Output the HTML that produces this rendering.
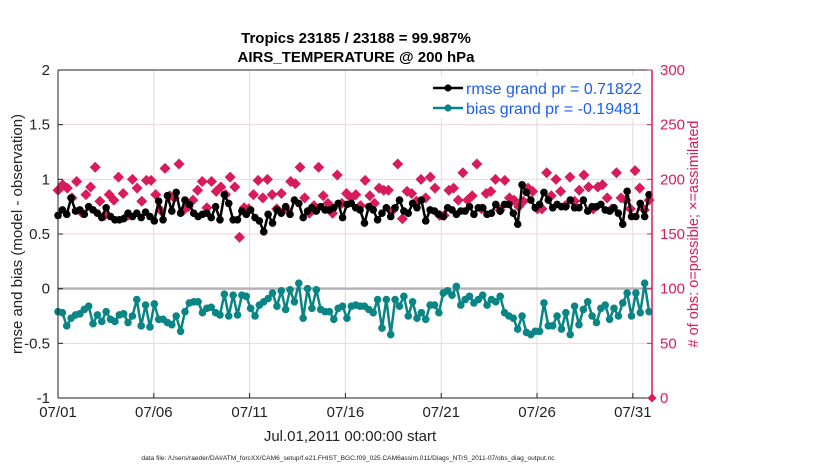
<!DOCTYPE html>
<html><head><meta charset="utf-8"><style>
body{margin:0;background:#fff;}
svg{display:block;font-family:"Liberation Sans",sans-serif;}
</style></head><body>
<svg id="chart" width="830" height="470" viewBox="0 0 830 470" xmlns="http://www.w3.org/2000/svg">
<g id="grid"></g>
<g id="series"></g>
<g id="axes"></g>
</svg>
<script>
const xTickLabels=["07/01","07/06","07/11","07/16","07/21","07/26","07/31"];
const xTickDays=[0,5,10,15,20,25,30];
const leftTicks=[2,1.5,1,0.5,0,-0.5,-1];
const leftTickLabels=["2","1.5","1","0.5","0","-0.5","-1"];
const rightTicks=[300,250,200,150,100,50,0];
const rmse=[0.67,0.72,0.68,0.83,0.71,0.72,0.68,0.75,0.72,0.69,0.65,0.74,0.66,0.63,0.63,0.64,0.69,0.66,0.69,0.65,0.70,0.66,0.62,0.80,0.63,0.85,0.71,0.88,0.69,0.81,0.77,0.69,0.66,0.68,0.69,0.65,0.75,0.63,0.86,0.78,0.63,
0.63,0.71,0.68,0.72,0.65,0.62,0.52,0.68,0.60,0.72,0.69,0.75,0.68,0.81,0.78,0.65,0.71,0.74,0.71,0.75,0.72,0.72,0.74,0.78,0.65,0.77,0.78,0.74,0.72,0.60,0.75,0.72,0.63,0.69,0.74,0.66,0.74,0.81,0.71,0.69,0.78,0.74,
0.81,0.62,0.72,0.71,0.68,0.66,0.74,0.72,0.68,0.71,0.71,0.75,0.68,0.74,0.74,0.68,0.69,0.77,0.71,0.77,0.77,0.69,0.59,0.95,0.88,0.81,0.74,0.77,0.88,0.81,0.74,0.77,0.75,0.75,0.81,0.74,0.74,0.81,0.71,0.75,0.75,0.77,0.72,0.71,0.74,0.69,0.59,0.89,0.66,0.66,0.78,0.66,0.86];
const bias=[-0.21,-0.22,-0.34,-0.27,-0.24,-0.23,-0.19,-0.16,-0.32,-0.24,-0.30,-0.21,-0.28,-0.30,-0.24,-0.23,-0.31,-0.25,-0.10,-0.34,-0.15,-0.35,-0.14,-0.28,-0.28,-0.31,-0.33,-0.25,-0.39,-0.21,-0.13,-0.12,-0.12,-0.22,-0.18,-0.17,-0.22,-0.24,-0.05,-0.25,-0.06,
-0.24,-0.06,-0.07,-0.18,-0.25,-0.15,-0.12,-0.09,-0.04,-0.16,-0.02,-0.19,-0.01,-0.12,0.05,-0.27,0.00,-0.18,-0.01,-0.19,-0.21,-0.21,-0.28,-0.18,-0.16,-0.27,-0.16,-0.15,-0.16,-0.16,-0.19,-0.22,-0.10,-0.36,-0.10,-0.42,-0.10,-0.16,-0.07,-0.25,-0.12,-0.27,
-0.22,-0.28,-0.15,-0.15,-0.22,-0.04,-0.02,-0.06,0.02,-0.15,-0.10,-0.07,-0.13,-0.10,-0.06,-0.15,-0.10,-0.12,-0.07,-0.22,-0.25,-0.27,-0.37,-0.25,-0.40,-0.42,-0.39,-0.39,-0.13,-0.34,-0.34,-0.25,-0.37,-0.22,-0.42,-0.16,-0.33,-0.19,-0.12,-0.25,-0.31,-0.18,-0.15,-0.28,-0.18,-0.25,-0.13,-0.04,-0.25,-0.04,-0.22,0.05,-0.21];
const obsCount=[190,195,192,183,198,170,186,193,211,180,167,186,181,202,187,167,200,192,180,199,199,186,172,210,185,183,214,172,175,181,190,198,174,198,189,193,186,202,193,147,174,
173,186,199,183,200,186,173,187,173,198,196,211,183,169,176,211,185,178,169,204,178,187,183,186,176,199,185,178,192,190,190,172,214,164,189,187,180,200,183,202,192,167,
167,190,192,181,206,181,185,214,173,187,189,200,172,199,183,181,175,180,192,189,173,173,206,185,200,189,176,202,180,190,204,193,173,193,195,183,173,206,183,181,173,208,192,172,181];

const X0=58,X1=652,Y0=70,Y1=398,DAYS=31;
const xs=d=>X0+d/DAYS*(X1-X0);
const yl=v=>Y1-(v+1)/3*(Y1-Y0);
const yr=n=>Y1-n/300*(Y1-Y0);
const NS='http://www.w3.org/2000/svg';
function mk(tag,attrs,parent,text){const e=document.createElementNS(NS,tag);for(const k in attrs)e.setAttribute(k,attrs[k]);if(text!==undefined)e.textContent=text;parent.appendChild(e);return e;}
const grid=document.getElementById('grid'),series=document.getElementById('series'),axes=document.getElementById('axes');

rightTicks.forEach(t=>{const l=mk('line',{x1:X0,x2:X1,y1:yr(t),y2:yr(t),stroke:'#f3d3df','stroke-width':1},grid);

});
xTickDays.forEach(d=>{const l=mk('line',{x1:xs(d),x2:xs(d),y1:Y0,y2:Y1,stroke:'#dcdcdc','stroke-width':1},grid);

});
const zl=mk('line',{x1:X0,x2:X1,y1:yl(0),y2:yl(0),stroke:'#b8b3b6','stroke-width':2.5},grid);



obsCount.forEach((n,i)=>{const x=xs(i*DAYS/(obsCount.length-1)*0.995),y=yr(n);
const p=mk('path',{d:`M${x} ${y-5.5}L${x+5.5} ${y}L${x} ${y+5.5}L${x-5.5} ${y}Z`,fill:'#d81b5b'},series);

});

function line(arr,color,name){const n=arr.length;const pts=arr.map((v,i)=>[xs(i*DAYS/(n-1)*0.995),yl(v)]);
const pl=mk('polyline',{points:pts.map(p=>p.join(',')).join(' '),fill:'none',stroke:color,'stroke-width':2.5,'stroke-linejoin':'round'},series);


pts.forEach(p=>{const c=mk('circle',{cx:p[0],cy:p[1],r:3.8,fill:color},series);

});}
line(rmse,'#000','rmse');
line(bias,'#0a8585','bias');

const bl=mk('line',{x1:X0,x2:X1,y1:Y1,y2:Y1,stroke:'#222','stroke-width':1},axes);


const tl=mk('line',{x1:X0,x2:X1,y1:Y0,y2:Y0,stroke:'#222','stroke-width':1},axes);


const ll=mk('line',{x1:X0,x2:X0,y1:Y0,y2:Y1,stroke:'#222','stroke-width':1},axes);


const rl=mk('line',{x1:X1,x2:X1,y1:Y0,y2:Y1,stroke:'#d81b5b','stroke-width':1.5},axes);



xTickDays.forEach((d,i)=>{mk('line',{x1:xs(d),x2:xs(d),y1:Y1,y2:Y1-5,stroke:'#222'},axes);
const t=mk('text',{x:xs(d),y:Y1+19,'text-anchor':'middle','font-size':15,fill:'#222'},axes,xTickLabels[i]);

});
leftTicks.forEach((v,i)=>{mk('line',{x1:X0,x2:X0+5,y1:yl(v),y2:yl(v),stroke:'#222'},axes);
const t=mk('text',{x:X0-8,y:yl(v)+5,'text-anchor':'end','font-size':15,fill:'#222'},axes,leftTickLabels[i]);

});
rightTicks.forEach(v=>{mk('line',{x1:X1,x2:X1-5,y1:yr(v),y2:yr(v),stroke:'#d81b5b'},axes);
const t=mk('text',{x:X1+8,y:yr(v)+5,'font-size':15,fill:'#d81b5b'},axes,String(v));

});
const dz=mk('path',{d:`M${X1} ${Y1-4.5}L${X1+4.5} ${Y1}L${X1} ${Y1+4.5}L${X1-4.5} ${Y1}Z`,fill:'#d81b5b'},axes);


</script>
<svg width="830" height="470" style="position:absolute;left:0;top:0;font-family:'Liberation Sans',sans-serif">
<text x="356" y="43" text-anchor="middle" font-size="15" font-weight="bold" fill="#000">Tropics 23185 / 23188 = 99.987%</text>
<text x="356" y="62" text-anchor="middle" font-size="15" font-weight="bold" fill="#000">AIRS_TEMPERATURE @ 200 hPa</text>
<text transform="translate(22,234) rotate(-90)" text-anchor="middle" font-size="15" fill="#222">rmse and bias (model - observation)</text>
<text transform="translate(698,234) rotate(-90)" text-anchor="middle" font-size="14.5" fill="#d81b5b"># of obs: o=possible; ×=assimilated</text>
<text x="350" y="441" text-anchor="middle" font-size="15" fill="#222">Jul.01,2011 00:00:00 start</text>
<text x="348" y="460" text-anchor="middle" font-size="6.6" fill="#222">data file: /Users/raeder/DAI/ATM_forcXX/CAM6_setup/f.e21.FHIST_BGC.f09_025.CAM6assim.011/Diags_NTrS_2011-07/obs_diag_output.nc</text>
<g>
<rect x="425" y="76" width="222" height="42" fill="#fff"/>
<line x1="433" x2="463" y1="88" y2="88" stroke="#000" stroke-width="2.5"/>
<circle cx="448" cy="88" r="3.6" fill="#000"/>
<text x="466" y="94" font-size="16" fill="#1a5cf5">rmse grand pr = 0.71822</text>
<line x1="433" x2="463" y1="108" y2="108" stroke="#0a8585" stroke-width="2.5"/>
<circle cx="448" cy="108" r="3.6" fill="#0a8585"/>
<text x="466" y="114" font-size="16" fill="#1a5cf5">bias grand pr = -0.19481</text>
</g>
</svg>
</body></html>
